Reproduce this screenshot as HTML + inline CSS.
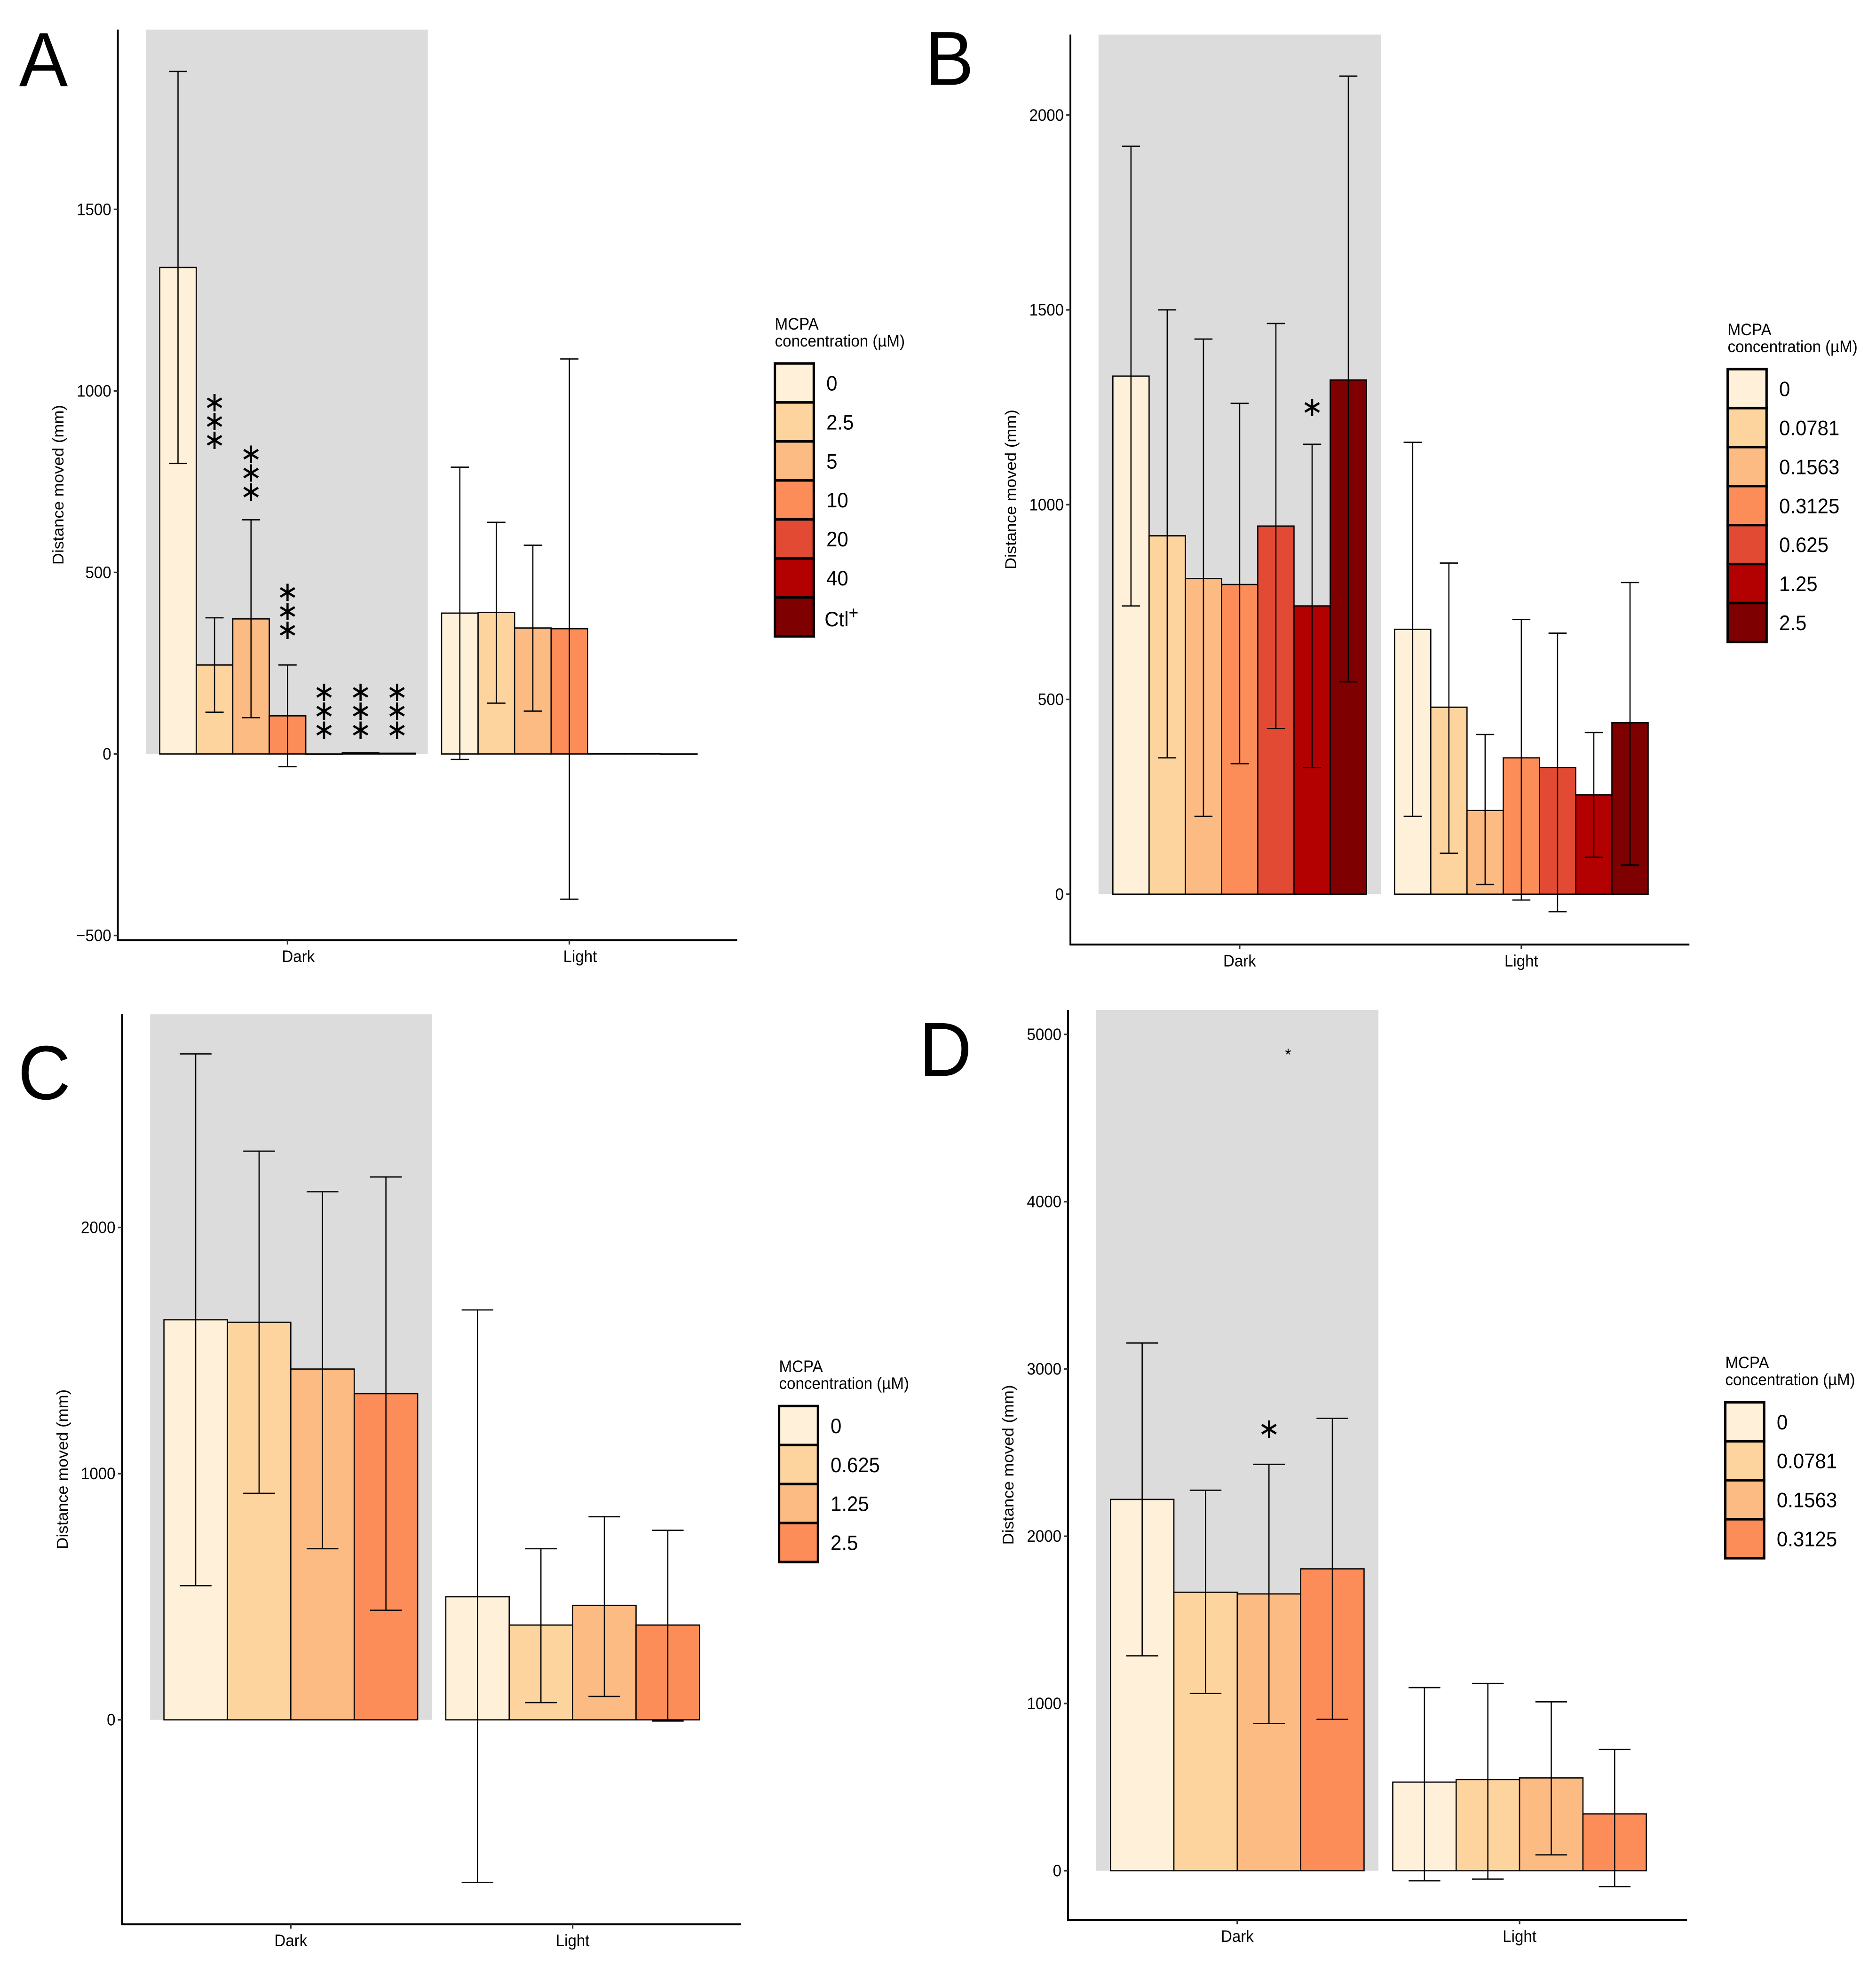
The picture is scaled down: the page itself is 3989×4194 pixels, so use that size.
<!DOCTYPE html>
<html><head><meta charset="utf-8">
<style>
html,body{margin:0;padding:0;background:#fff;}
body{width:3989px;height:4194px;position:relative;overflow:hidden;font-family:"Liberation Sans",sans-serif;}
svg.panel{position:absolute;overflow:visible;}
</style></head>
<body>
<svg id="pA" class="panel" style="left:0;top:0" width="1995" height="2097" viewBox="0 0 1568 1568" preserveAspectRatio="none"></svg>
<svg id="pB" class="panel" style="left:1995px;top:0" width="1994" height="2097" viewBox="0 0 1568 1568" preserveAspectRatio="none"></svg>
<svg id="pC" class="panel" style="left:0;top:2097px" width="1995" height="2097" viewBox="0 0 1568 1568" preserveAspectRatio="none"></svg>
<svg id="pD" class="panel" style="left:1995px;top:2097px" width="1994" height="2097" viewBox="0 0 1568 1568" preserveAspectRatio="none"></svg>
<script>
// ---- data ----
const categories = ["Dark", "Light"];
const colors7 = ["#fef0d9","#fdd49e","#fdbb84","#fc8d59","#e34a33","#b30000","#7f0000"];

const aLevels = ["0","2.5","5","10","20","40","Ctl+"];
const aDark = [1340, 245, 372, 105, 0, 3, 2];
const aDarkLo = [800, 115, 100, -35, null, null, null];
const aDarkHi = [1880, 375, 645, 245, null, null, null];
const aLight = [388, 390, 347, 345, 1, 1, 0];
const aLightLo = [-15, 140, 118, -400, null, null, null];
const aLightHi = [790, 638, 575, 1088, null, null, null];
const aTicks = [-500, 0, 500, 1000, 1500];
const aStarBars = [1, 2, 3, 4, 5, 6];
const aStarVals = [864, 722, 341, 66, 66, 66];
const aStarText = ["***","***","***","***","***","***"];

const bLevels = ["0","0.0781","0.1563","0.3125","0.625","1.25","2.5"];
const bDark = [1330, 920, 810, 795, 945, 740, 1320];
const bDarkLo = [740, 350, 200, 335, 425, 325, 545];
const bDarkHi = [1920, 1500, 1425, 1260, 1465, 1155, 2100];
const bLight = [680, 480, 215, 350, 325, 255, 440];
const bLightLo = [200, 105, 25, -15, -45, 95, 75];
const bLightHi = [1160, 850, 410, 705, 670, 415, 800];
const bTicks = [0, 500, 1000, 1500, 2000];
const bStarBars = [5];
const bStarVals = [1250];
const bStarText = ["*"];

const cLevels = ["0","0.625","1.25","2.5"];
const cDark = [1625, 1615, 1425, 1325];
const cDarkLo = [545, 920, 695, 445];
const cDarkHi = [2705, 2310, 2145, 2205];
const cLight = [500, 385, 465, 385];
const cLightLo = [-660, 70, 95, -5];
const cLightHi = [1665, 695, 825, 770];
const cTicks = [0, 1000, 2000];

const dLevels = ["0","0.0781","0.1563","0.3125"];
const dDark = [2220, 1665, 1655, 1805];
const dDarkLo = [1285, 1060, 880, 905];
const dDarkHi = [3155, 2275, 2430, 2705];
const dLight = [530, 545, 555, 340];
const dLightLo = [-60, -50, 95, -95];
const dLightHi = [1095, 1120, 1010, 725];
const dTicks = [0, 1000, 2000, 3000, 4000, 5000];
const dStarBars = [2];
const dStarVals = [2640];
const dStarText = ["*"];

// ---- drawing ----
const NS = "http://www.w3.org/2000/svg";
function mk(parent, tag, attrs, text) {
  const e = document.createElementNS(NS, tag);
  for (const k in attrs) e.setAttribute(k, attrs[k]);
  if (text !== undefined) e.textContent = text;
  parent.appendChild(e);
  return e;
}

function drawPanel(svg, L) {
  const y = v => L.y0 - (v - L.vRef0) * L.pxPer;
  const nb = L.levels.length;
  const groupW = L.darkEnd - L.darkStart;
  const bw = groupW / nb;
  const centers = [L.darkStart + groupW / 2, L.lightStart + groupW / 2];

  const lt = mk(svg, "text", {x: L.letterX, y: L.letterY, "font-size": 122, fill: "#000"}, L.letter);
  
  

  const bg = mk(svg, "rect", {x: L.grayX0, y: L.top, width: L.grayX1 - L.grayX0, height: y(0) - L.top, fill: "#dcdcdc"});
  
  

  const groups = [[L.dark, L.darkLo, L.darkHi, L.darkStart], [L.light, L.lightLo, L.lightHi, L.lightStart]];
  groups.forEach((g, gi) => {
    const [vals, lo, hi, x0] = g;
    vals.forEach((v, i) => {
      const top = Math.min(y(v), y(0)), h = Math.abs(y(v) - y(0));
      const r = mk(svg, "rect", {x: x0 + i * bw, y: top, width: bw, height: Math.max(h, 0.5), fill: colors7[i], stroke: "#000", "stroke-width": 2});
      
      
    });
    vals.forEach((v, i) => {
      if (lo[i] === null) return;
      const cx = x0 + (i + 0.5) * bw, hw = bw * 0.25;
      const eg = mk(svg, "g", {stroke: "#000", "stroke-width": 2, fill: "none"});
      
      
      mk(eg, "line", {x1: cx, x2: cx, y1: y(lo[i]), y2: y(hi[i])});
      mk(eg, "line", {x1: cx - hw, x2: cx + hw, y1: y(lo[i]), y2: y(lo[i])});
      mk(eg, "line", {x1: cx - hw, x2: cx + hw, y1: y(hi[i]), y2: y(hi[i])});
    });
  });

  if (L.starBars) {
    L.starBars.forEach((bi, k) => {
      const cx = L.darkStart + (bi + 0.5) * bw;
      const chars = L.starText[k].split("");
      chars.forEach((c, j) => {
        const t = mk(svg, "text", {x: cx, y: y(L.starVals[k]) - j * 30 + 14, "font-size": 44, "text-anchor": "middle", fill: "#000"}, "\u2217");
        
        
      });
    });
  }
  if (L.extraStar) {
    const t = mk(svg, "text", {x: L.extraStar[0], y: L.extraStar[1], "font-size": 26, "text-anchor": "middle", fill: "#000"}, "*");
    
    
  }

  const ya = mk(svg, "line", {x1: L.axisX, x2: L.axisX, y1: L.top, y2: L.bottom, stroke: "#000", "stroke-width": 3});
  
  
  const xa = mk(svg, "line", {x1: L.axisX - 1.5, x2: L.right, y1: L.bottom, y2: L.bottom, stroke: "#000", "stroke-width": 3});
  
  
  L.ticks.forEach(tv => {
    const ty = y(tv);
    const tk = mk(svg, "line", {x1: L.axisX - 7, x2: L.axisX, y1: ty, y2: ty, stroke: "#333", "stroke-width": 2.5});
    
    
    const tl = mk(svg, "text", {x: L.axisX - 11, y: ty + 9, "font-size": 26, "text-anchor": "end", fill: "#000"}, tv < 0 ? "\u2212" + Math.abs(tv) : String(tv));
    
    
  });
  categories.forEach((c, i) => {
    const tk = mk(svg, "line", {x1: centers[i], x2: centers[i], y1: L.bottom, y2: L.bottom + 7, stroke: "#333", "stroke-width": 2.5});
    
    
    const tl = mk(svg, "text", {x: centers[i] + L.xLabOff, y: L.bottom + 35, "font-size": 26, "text-anchor": "middle", fill: "#000"}, c);
    
    
  });
  const yt = mk(svg, "text", {x: 0, y: 0, "font-size": 26, "text-anchor": "middle", fill: "#000",
    transform: "translate(" + (L.axisX - 91) + "," + ((L.top + L.bottom) / 2) + ") rotate(-90)"}, "Distance moved (mm)");
  
  

  const lg = mk(svg, "g", {});
  
  
  mk(lg, "text", {x: L.legX, y: L.legY - 54, "font-size": 26, fill: "#000"}, "MCPA");
  mk(lg, "text", {x: L.legX, y: L.legY - 27, "font-size": 26, fill: "#000"}, "concentration (\u00b5M)");
  const kh = 62, kw = 65;
  L.levels.forEach((lv, i) => {
    const ky = L.legY + i * kh;
    const kr = mk(lg, "rect", {x: L.legX, y: ky, width: kw, height: kh, fill: colors7[i], stroke: "#000", "stroke-width": 4});
    
    
    let t;
    if (lv === "Ctl+") {
      t = mk(lg, "text", {x: L.legX + kw + 18, y: ky + kh / 2 + 15, "font-size": 33, fill: "#000"}, "Ctl");
      mk(t, "tspan", {dy: -12, "font-size": 28}, "+");
    } else {
      t = mk(lg, "text", {x: L.legX + kw + 21, y: ky + kh / 2 + 12, "font-size": 33, fill: "#000"}, lv);
    }
    
    
  });
}

drawPanel(document.getElementById("pA"), {
  letter: "A", letterX: 32, letterY: 137, levels: aLevels, xLabOff: 18,
  dark: aDark, darkLo: aDarkLo, darkHi: aDarkHi, light: aLight, lightLo: aLightLo, lightHi: aLightHi,
  ticks: aTicks, vRef0: 0, y0: 1199, pxPer: 288.67 / 500,
  axisX: 197, top: 47, bottom: 1495, right: 1232,
  grayX0: 244, grayX1: 715, darkStart: 267, darkEnd: 694, lightStart: 738,
  legX: 1295, legY: 578,
  starBars: aStarBars, starVals: aStarVals, starText: aStarText
});
drawPanel(document.getElementById("pB"), {
  letter: "B", letterX: -22, letterY: 135, levels: bLevels, xLabOff: 0,
  dark: bDark, darkLo: bDarkLo, darkHi: bDarkHi, light: bLight, lightLo: bLightLo, lightHi: bLightHi,
  ticks: bTicks, vRef0: 0, y0: 1422, pxPer: 309.75 / 500,
  axisX: 221, top: 55, bottom: 1502, right: 1256,
  grayX0: 268, grayX1: 740, darkStart: 292, darkEnd: 716, lightStart: 763,
  legX: 1320, legY: 587,
  starBars: bStarBars, starVals: bStarVals, starText: bStarText
});
drawPanel(document.getElementById("pC"), {
  letter: "C", letterX: 30, letterY: 180, levels: cLevels, xLabOff: 0,
  dark: cDark, darkLo: cDarkLo, darkHi: cDarkHi, light: cLight, lightLo: cLightLo, lightHi: cLightHi,
  ticks: cTicks, vRef0: 0, y0: 1167, pxPer: 391.5 / 1000,
  axisX: 204, top: 45, bottom: 1492, right: 1238,
  grayX0: 251, grayX1: 722, darkStart: 274, darkEnd: 698, lightStart: 745,
  legX: 1302, legY: 668
});
drawPanel(document.getElementById("pD"), {
  letter: "D", letterX: -32, letterY: 143, levels: dLevels, xLabOff: 0,
  dark: dDark, darkLo: dDarkLo, darkHi: dDarkHi, light: dLight, lightLo: dLightLo, lightHi: dLightHi,
  ticks: dTicks, vRef0: 0, y0: 1407, pxPer: 266 / 1000,
  axisX: 217, top: 38, bottom: 1485, right: 1252,
  grayX0: 264, grayX1: 736, darkStart: 288, darkEnd: 712, lightStart: 760,
  legX: 1316, legY: 662,
  starBars: dStarBars, starVals: dStarVals, starText: dStarText,
  extraStar: [585, 118]
});
</script>
</body></html>
